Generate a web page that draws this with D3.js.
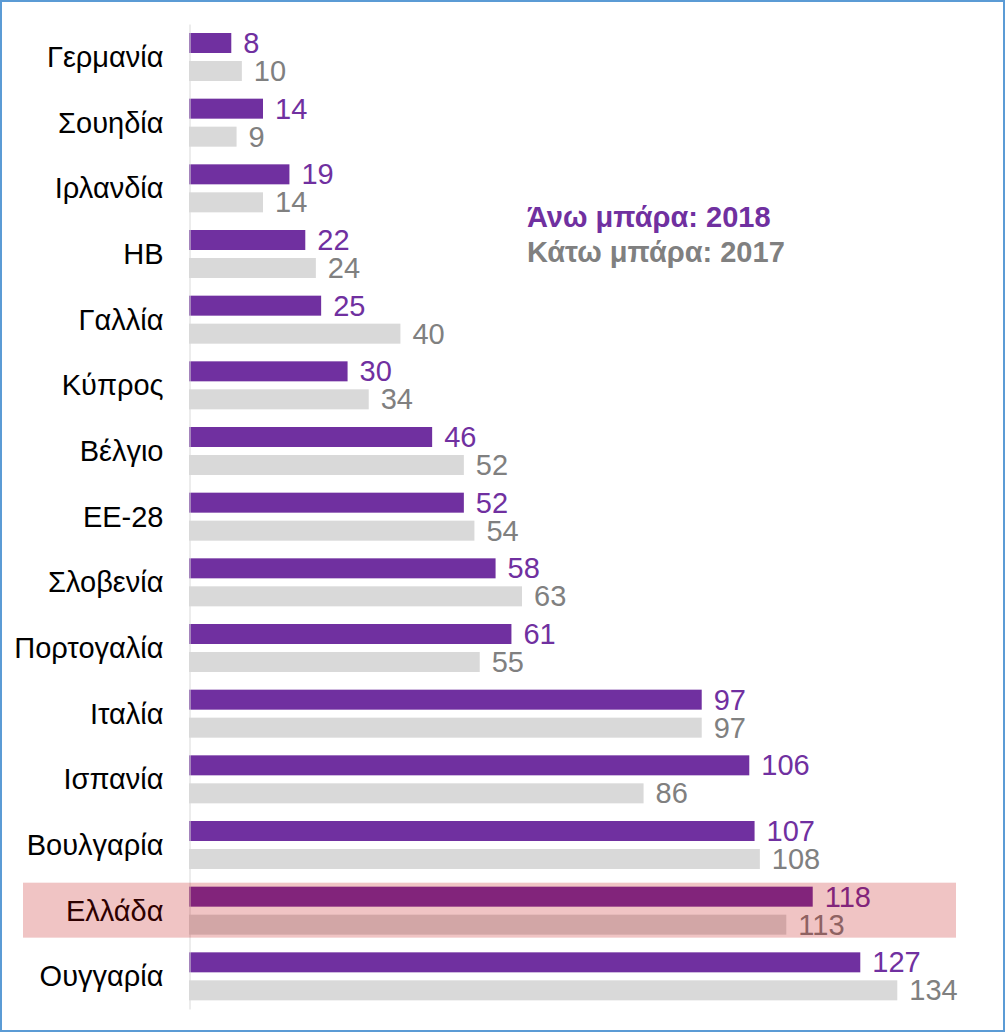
<!DOCTYPE html>
<html>
<head>
<meta charset="utf-8">
<script src="https://cdn.jsdelivr.net/npm/d3@7"></script>
<style>
  html, body { margin: 0; padding: 0; background: #fff; }
  svg { display: block; font-family: "Liberation Sans", Arial, sans-serif; }
</style>
</head>
<body>
<svg id="chart" width="1006" height="1033"></svg>
<script>
// chart data
const countries = ['Γερμανία', 'Σουηδία', 'Ιρλανδία', 'ΗΒ', 'Γαλλία', 'Κύπρος', 'Βέλγιο', 'ΕΕ-28',
                   'Σλοβενία', 'Πορτογαλία', 'Ιταλία', 'Ισπανία', 'Βουλγαρία', 'Ελλάδα', 'Ουγγαρία'];
const values2018 = [8, 14, 19, 22, 25, 30, 46, 52, 58, 61, 97, 106, 107, 118, 127];
const values2017 = [10, 9, 14, 24, 40, 34, 52, 54, 63, 55, 97, 86, 108, 113, 134];
const series = ['2018', '2017'];
const legendLines = ['Άνω μπάρα: 2018', 'Κάτω μπάρα: 2017'];
const highlighted = 'Ελλάδα';

const colors = { '2018': '#7030A0', '2017': '#D9D9D9' };
const textColors = { '2018': '#7030A0', '2017': '#808080' };

const svg = d3.select('#chart');

// frame
svg.append('rect')
    .attr('x', 1).attr('y', 1)
    .attr('width', 1003).attr('height', 1030)
    .attr('fill', '#fff')
    .attr('stroke', '#5B9BD5')
    .attr('stroke-width', 2);

const x = d3.scaleLinear().domain([0, 140]).range([189, 929]);
const y = d3.scaleBand().domain(countries).range([24, 1009]).padding(0);
const ySeries = d3.scaleBand().domain(series).range([9, 57]).paddingInner(2 / 7);

const rows = countries.map((c, i) => ({ country: c, '2018': values2018[i], '2017': values2017[i] }));

// bars
const row = svg.append('g')
    .selectAll('g')
    .data(rows)
    .join('g')
    .attr('transform', d => `translate(0,${y(d.country)})`);

row.selectAll('rect')
    .data(d => series.map(s => ({ key: s, value: d[s] })))
    .join('rect')
    .attr('x', x(0))
    .attr('y', d => ySeries(d.key))
    .attr('width', d => x(d.value) - x(0))
    .attr('height', ySeries.bandwidth())
    .attr('fill', d => colors[d.key]);

row.selectAll('text')
    .data(d => series.map(s => ({ key: s, value: d[s] })))
    .join('text')
    .attr('x', d => x(d.value) + 12)
    .attr('y', d => ySeries(d.key) + ySeries.bandwidth() / 2)
    .attr('dy', '0.35em')
    .attr('font-size', 29)
    .attr('fill', d => textColors[d.key])
    .text(d => d.value);

// category axis
svg.append('g')
    .attr('transform', `translate(${x(0) + 0.5},0)`)
    .call(d3.axisLeft(y).tickSize(0).tickPadding(26))
    .call(g => g.select('.domain').attr('stroke', '#D9D9D9'))
    .call(g => g.selectAll('.tick text')
        .attr('font-size', 29)
        .attr('font-family', '"Liberation Sans", Arial, sans-serif')
        .attr('fill', '#000')
        .attr('dy', '0.35em'));

// legend note
svg.append('g')
    .selectAll('text')
    .data(legendLines)
    .join('text')
    .attr('x', 527)
    .attr('y', (d, i) => 227 + i * 35)
    .attr('font-size', 29)
    .attr('font-weight', 'bold')
    .attr('fill', (d, i) => textColors[series[i]])
    .text(d => d);

// highlight for Greece, drawn on top
svg.append('rect')
    .attr('x', 23)
    .attr('y', y(highlighted) + 5)
    .attr('width', 933)
    .attr('height', 55)
    .attr('fill', '#C00000')
    .attr('fill-opacity', 0.23);
</script>
</body>
</html>
